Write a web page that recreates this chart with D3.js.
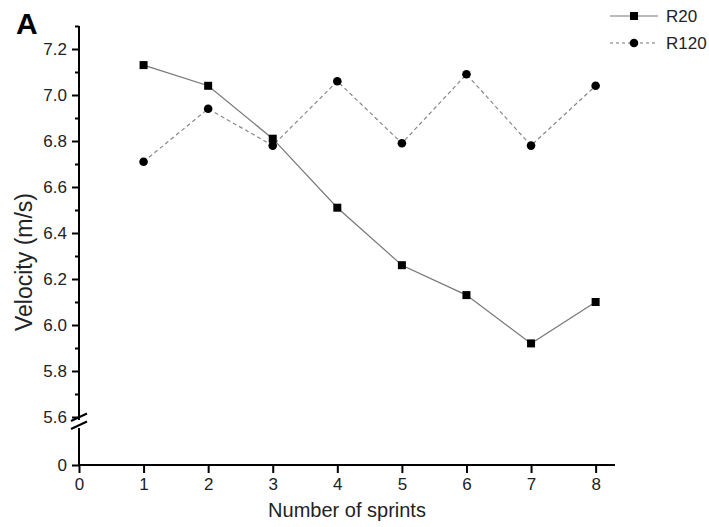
<!DOCTYPE html>
<html>
<head>
<meta charset="utf-8">
<script src="https://cdn.jsdelivr.net/npm/d3@7"></script>
<style>
  body { margin: 0; background: #fff; }
  svg { display: block; font-family: "Liberation Sans", Arial, sans-serif; }
  .axis path, .axis line { stroke: #000; stroke-width: 2; }
  .axis text { font-size: 17px; fill: #222; }
</style>
</head>
<body>
<div id="chart"></div>
<script>
// dados
const sprints = [1, 2, 3, 4, 5, 6, 7, 8];
const r20 = [7.13, 7.04, 6.81, 6.51, 6.26, 6.13, 5.92, 6.10];
const r120 = [6.71, 6.94, 6.78, 7.06, 6.79, 7.09, 6.78, 7.04];
const yMajor = [5.6, 5.8, 6.0, 6.2, 6.4, 6.6, 6.8, 7.0, 7.2];
const yMinor = [5.7, 5.9, 6.1, 6.3, 6.5, 6.7, 6.9, 7.1, 7.3];
const xTicks = [0, 1, 2, 3, 4, 5, 6, 7, 8];

const width = 709, height = 527;

const svg = d3.select("#chart").append("svg")
    .attr("width", width)
    .attr("height", height);

// escalas
const x = d3.scaleLinear().domain([0, 8.3]).range([79, 615]);
const yTop = d3.scaleLinear().domain([5.6, 7.3]).range([417, 26]);
const yBot = d3.scaleLinear().domain([0, 0.15]).range([465, 428]);

// eixo y (parte superior)
const gyTop = svg.append("g")
    .attr("class", "axis")
    .attr("transform", "translate(79,0)")
    .call(d3.axisLeft(yTop).tickValues(yMajor).tickSize(7).tickSizeOuter(0).tickPadding(5)
        .tickFormat(d3.format(".1f")));
gyTop.select(".domain").attr("d", `M0,${yTop(7.3)}V${yTop(5.6) + 3}`);

svg.append("g")
    .attr("class", "axis")
    .attr("transform", "translate(79,0)")
    .call(d3.axisLeft(yTop).tickValues(yMinor).tickSize(4).tickSizeOuter(0).tickFormat(""))
    .select(".domain").remove();

// eixo y (parte inferior)
const gyBot = svg.append("g")
    .attr("class", "axis")
    .attr("transform", "translate(79,0)")
    .call(d3.axisLeft(yBot).tickValues([0]).tickSize(7).tickSizeOuter(0).tickPadding(5)
        .tickFormat(d3.format("d")));
gyBot.select(".domain").attr("d", `M0,${yBot(0)}V${yBot(0.15)}`);

// marcas de quebra
[0, 8].forEach(off => {
    svg.append("line")
        .attr("x1", 71).attr("y1", 421 + off)
        .attr("x2", 87).attr("y2", 413.5 + off)
        .attr("stroke", "#000").attr("stroke-width", 2);
});

// eixo x
svg.append("g")
    .attr("class", "axis")
    .attr("transform", `translate(0,${yBot(0)})`)
    .call(d3.axisBottom(x).tickValues(xTicks).tickSize(8).tickSizeOuter(0).tickPadding(5)
        .tickFormat(d3.format("d")))
    .select(".domain").attr("d", `M${x(0)},0H${x(8.3)}`);

// linhas
const line = d3.line().x((d, i) => x(sprints[i])).y(d => yTop(d));

svg.append("path")
    .datum(r20)
    .attr("fill", "none")
    .attr("stroke", "#777")
    .attr("stroke-width", 1.2)
    .attr("d", line);

svg.append("path")
    .datum(r120)
    .attr("fill", "none")
    .attr("stroke", "#888")
    .attr("stroke-width", 1.2)
    .attr("stroke-dasharray", "4,3")
    .attr("d", line);

// marcadores
svg.append("g").selectAll("rect")
    .data(r20)
    .join("rect")
    .attr("x", (d, i) => x(sprints[i]) - 4)
    .attr("y", d => yTop(d) - 4)
    .attr("width", 8)
    .attr("height", 8)
    .attr("fill", "#000");

svg.append("g").selectAll("circle")
    .data(r120)
    .join("circle")
    .attr("cx", (d, i) => x(sprints[i]))
    .attr("cy", d => yTop(d))
    .attr("r", 4.3)
    .attr("fill", "#000");

// rótulos dos eixos
svg.append("text")
    .attr("transform", "translate(32,262) rotate(-90)")
    .attr("text-anchor", "middle")
    .style("font-size", "23px")
    .attr("fill", "#222")
    .text("Velocity (m/s)");

svg.append("text")
    .attr("x", 347)
    .attr("y", 517)
    .attr("text-anchor", "middle")
    .style("font-size", "20px")
    .attr("fill", "#222")
    .text("Number of sprints");

// letra do painel
svg.append("text")
    .attr("x", 16)
    .attr("y", 34)
    .style("font-size", "30px")
    .style("font-weight", "bold")
    .attr("fill", "#000")
    .text("A");

// legenda
const legend = [
    { name: "R20", dash: null, shape: "rect" },
    { name: "R120", dash: "3,3", shape: "circle" }
];
const lg = svg.append("g").selectAll("g")
    .data(legend)
    .join("g")
    .attr("transform", (d, i) => `translate(610,${16 + i * 27})`);

lg.append("line")
    .attr("x1", 0).attr("x2", 48)
    .attr("stroke", "#777")
    .attr("stroke-width", 1.2)
    .attr("stroke-dasharray", d => d.dash);

lg.filter(d => d.shape === "rect").append("rect")
    .attr("x", 20).attr("y", -4).attr("width", 8).attr("height", 8).attr("fill", "#000");
lg.filter(d => d.shape === "circle").append("circle")
    .attr("cx", 24).attr("r", 4.3).attr("fill", "#000");

lg.append("text")
    .attr("x", 56)
    .attr("y", 6)
    .style("font-size", "17px")
    .attr("fill", "#222")
    .text(d => d.name);
</script>
</body>
</html>
